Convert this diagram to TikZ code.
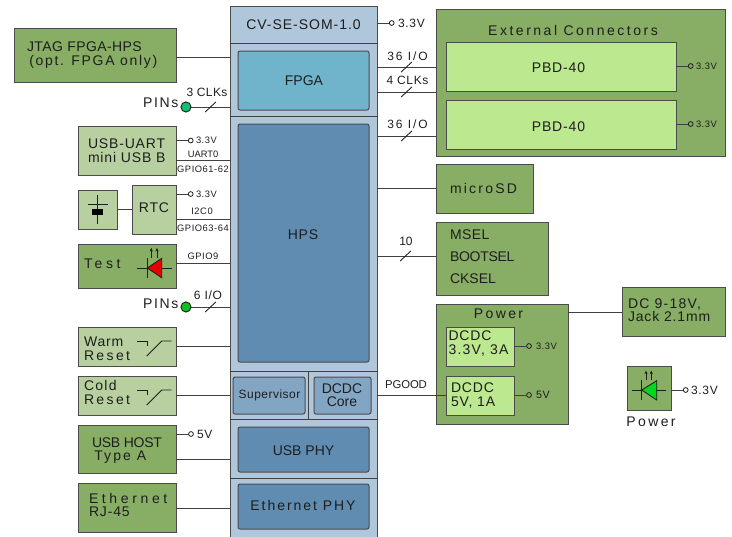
\documentclass[tikz,border=0pt]{standalone}
\usepackage{fontspec}
\setmainfont[LetterSpace=6]{Liberation Sans}
\newcommand\ls[2]{{\addfontfeature{LetterSpace=#1}#2}}
\newcommand\bx[7]{\pgfmathsetmacro\mw{(#4-#2)*0.75}\pgfmathsetmacro\mh{(#5-#3)*0.75}\node[#6,minimum width=\mw pt,minimum height=\mh pt] (#1) at ({(#2+#4)/2},{(#3+#5)/2}) {#7};}
\definecolor{dkg}{HTML}{88AD64}
\definecolor{ltg}{HTML}{B8D09F}
\definecolor{brg}{HTML}{BCE88F}
\definecolor{brd}{HTML}{AFC6DB}
\definecolor{hps}{HTML}{5F8CB0}
\definecolor{fpg}{HTML}{6FB4CA}
\definecolor{sup}{HTML}{82A5C4}
\definecolor{ink}{HTML}{1E1E1E}
\tikzset{
 every node/.style={inner sep=0pt,outer sep=0pt,text=ink},
 boxb/.style={draw=ink!80,line width=0.75pt,align=center},
 dk/.style={boxb,fill=dkg},
 lt/.style={boxb,fill=ltg},
 br/.style={boxb,fill=brg},
 chip/.style={boxb,fill=hps,rounded corners=1.5pt},
 big/.style={font=\fontsize{10.5}{10.2}\selectfont,align=left},
 mid/.style={font=\fontsize{9}{10}\selectfont,align=left},
 tiny/.style={font=\fontsize{7}{8}\selectfont},
 wire/.style={draw=ink!85,line width=0.7pt},
 term/.style={circle,draw=ink,line width=0.6pt,minimum size=3.6pt},
 pin/.style={circle,draw=ink,line width=0.7pt,minimum size=7.6pt},
 sym/.style={draw=ink,line width=0.65pt},
 tip/.style={-{Stealth[length=2.6pt,width=2.4pt]},draw=ink,line width=0.6pt},
}
\usetikzlibrary{arrows.meta}
\begin{document}
\begin{tikzpicture}[x=0.75pt,y=-0.75pt]
\useasboundingbox (0,0) rectangle (732,536);
% board
\bx{board}{230}{6}{377}{538}{boxb,fill=brd}{}
\coordinate (divA) at (230,43); \coordinate (divB) at (230,116);
\coordinate (divC) at (230,371); \coordinate (divD) at (230,419); \coordinate (divE) at (230,478);
\foreach \d in {divA,divB,divC,divD,divE} \draw[wire] (\d) -- (\d -| board.east);
\coordinate (divF) at (308,371); \draw[wire] (divF) -- (divF |- divD);
\node[big] (cv) at (303.5,25) {\ls{7}{CV-SE-SOM-1.0}};
\bx{fpga}{238}{51}{369}{110}{chip,fill=fpg}{}
\node[big] (fpgat) at (304,81) {\ls{0}{FPGA}};
\bx{hps}{238}{124}{369}{362}{chip}{}
\node[big] (hpst) at (303,235) {HPS};
\bx{sv}{233}{377}{305}{414}{chip,fill=sup}{}
\node[font=\fontsize{9}{9}\selectfont] (svt) at (269.5,395) {\ls{4}{Supervisor}};
\bx{core}{314}{377}{371}{414}{chip,fill=sup}{}
\node[big,align=center] (coret) at (342,395) {\ls{0}{DCDC}\\\ls{0}{Core}};
\bx{usbphy}{238}{427}{369}{472}{chip}{}
\node[big] (usbphyt) at (303.5,451) {\ls{0}{USB PHY}};
\bx{ethphy}{238}{484}{369}{529}{chip}{}
\node[big] (ethphyt) at (303,505) {\ls{14}{Ethernet PHY}};
% left boxes
\bx{jtag}{14.5}{28}{176}{82}{dk}{}
\node[big,anchor=west] (jtagt) at (27,55) {\ls{3}{JTAG FPGA-HPS}\\\,\ls{12}{(opt. FPGA only)}};
\bx{uart}{78}{126}{176}{175}{lt}{}
\node[big,anchor=west] (uartt) at (88,150.5) {USB-UART\\mini USB B};
\bx{bat}{78}{190}{117}{229}{lt}{}
\bx{rtc}{132}{185}{176}{234}{lt}{}
\node[big] (rtct) at (154,208) {RTC};
\bx{test}{78}{244}{176}{288}{dk}{}
\node[big,anchor=west] (testt) at (84,264) {\ls{26}{Test}};
\bx{warm}{78}{327}{176}{366}{lt}{}
\node[big,anchor=west] (warmt) at (84,348.5) {Warm\\\ls{17}{Reset}};
\bx{cold}{78}{376}{176}{415}{lt}{}
\node[big,anchor=west] (coldt) at (84,392.5) {\ls{9}{Cold}\\\ls{17}{Reset}};
\bx{host}{78}{425}{176}{473}{dk}{}
\node[big,anchor=west] (hostt) at (92,450.5) {\ls{-2}{USB HOST}\\\,\ls{15}{Type A}};
\bx{eth}{78}{483}{176}{532}{dk}{}
\node[big,anchor=west] (etht) at (89,505) {\ls{26}{Ethernet}\\RJ-45};
% right boxes
\bx{ext}{436}{9}{725}{156}{dk}{}
\node[big] (extt) at (573,30) {\ls{18}{External Connectors}};
\bx{pbda}{446}{42}{676}{91}{br}{}
\node[big] (pbdat) at (558.5,68) {PBD-40};
\bx{pbdb}{446}{100}{676}{149}{br}{}
\node[big] (pbdbt) at (558.5,127) {PBD-40};
\bx{sd}{436}{164}{533}{213}{dk}{}
\node[big,anchor=west] (sdt) at (450,188) {\ls{16}{microSD}};
\bx{msel}{436}{222}{548}{295}{dk}{}
\node[big,anchor=west] (mselt) at (450,235) {\ls{3}{MSEL}};
\node[big,anchor=west] (boott) at (450,257) {\ls{-2}{BOOTSEL}};
\node[big,anchor=west] (ckst) at (450,279) {\ls{0}{CKSEL}};
\bx{pwr}{436}{304}{568}{424}{dk}{}
\node[big] (pwrt) at (498.5,314) {\ls{17}{Power}};
\bx{dca}{446}{327}{514}{366}{br}{}
\node[big,anchor=west] (dcat) at (448.5,343.5) {DCDC\\\ls{9}{3.3V, 3A}};
\bx{dcb}{446}{376}{514}{415}{br}{}
\node[big,anchor=west] (dcbt) at (451,395.5) {DCDC\\5V, 1A};
\bx{dc}{622}{287}{725}{336}{dk}{}
\node[big,anchor=west] (dct) at (628,310) {\ls{9}{DC 9-18V,}\\Jack 2.1mm};
\bx{ledb}{627}{366}{671}{410}{dk}{}
\node[big] (ledt) at (651,422) {\ls{17}{Power}};
% plain connectors
\coordinate (yJ) at (0,57); \draw[wire] (jtag.east |- yJ) -- (board.west |- yJ);
\draw[wire] (bat.east |- 0,209) -- (rtc.west |- 0,209);
\coordinate (yA) at (0,160.5); \draw[wire] (uart.east |- yA) -- (board.west |- yA);
\coordinate (yB) at (0,219); \draw[wire] (rtc.east |- yB) -- (board.west |- yB);
\coordinate (yC) at (0,263); \draw[wire] (test.east |- yC) -- (board.west |- yC);
\coordinate (yD) at (0,346); \draw[wire] (warm.east |- yD) -- (board.west |- yD);
\coordinate (yE) at (0,395); \draw[wire] (cold.east |- yE) -- (board.west |- yE);
\coordinate (yF) at (0,459); \draw[wire] (host.east |- yF) -- (board.west |- yF);
\coordinate (yG) at (0,508); \draw[wire] (eth.east |- yG) -- (board.west |- yG);
\coordinate (yH) at (0,67); \draw[wire] (board.east |- yH) -- (ext.west |- yH);
\coordinate (yI) at (0,92); \draw[wire] (board.east |- yI) -- (ext.west |- yI);
\coordinate (yK) at (0,136); \draw[wire] (board.east |- yK) -- (ext.west |- yK);
\coordinate (yL) at (0,188); \draw[wire] (board.east |- yL) -- (sd.west |- yL);
\coordinate (yM) at (0,256); \draw[wire] (board.east |- yM) -- (msel.west |- yM);
\coordinate (yN) at (0,395); \draw[wire] (board.east |- yN) -- (dcb.west |- yN);
\coordinate (yO) at (0,312); \draw[wire] (pwr.east |- yO) -- (dc.west |- yO);
% pins
\node[pin,fill={rgb,255:red,16;green,192;blue,112}] (pina) at (186,107) {};
\draw[wire] (pina) -- (board.west |- pina);
\node[big,anchor=east] (pinat) at (178.5,103) {\ls{12}{PINs}};
\node[pin,fill={rgb,255:red,16;green,192;blue,32}] (pinb) at (186,307) {};
\draw[wire] (pinb) -- (board.west |- pinb);
\node[big,anchor=east] (pinbt) at (178.5,304) {\ls{12}{PINs}};
% slashes
\foreach \x/\y in {210.5/107,210.5/307,406.5/67,406.5/92,406.5/136,405.5/256}
  \draw[sym] (\x-5.3,\y+5) -- (\x+5.3,\y-5);
% bus labels
\node[mid] (l1) at (207,92) {\ls{3}{3 CLKs}};
\node[mid] (l2) at (208,295) {6 I/O};
\node[mid] (l3) at (407.5,56) {\ls{16}{36 I/O}};
\node[mid] (l4) at (407.5,80) {\ls{5}{4 CLKs}};
\node[mid] (l5) at (407.5,124) {\ls{16}{36 I/O}};
\node[mid] (l6) at (406,241) {\ls{-2}{10}};
\node[font=\fontsize{8.5}{9}\selectfont] (l7) at (406,385) {\ls{-1}{PGOOD}};
\node[tiny] (l8) at (203,154) {\ls{0}{UART0}};
\node[tiny] (l9) at (203,169) {GPIO61-62};
\node[tiny] (l10) at (202,211) {I2C0};
\node[tiny] (l11) at (203,228) {GPIO63-64};
\node[tiny] (l12) at (203,256) {GPIO9};
% terminals
\node[term] (ta) at (190.7,140.5) {}; \draw[wire] (uart.east |- ta) -- (ta.west);
\node[tiny,anchor=west] (tat) at (196,140.5) {3.3V};
\node[term] (tb) at (190.7,194) {}; \draw[wire] (rtc.east |- tb) -- (tb.west);
\node[tiny,anchor=west] (tbt) at (196,194) {3.3V};
\node[term] (tc) at (191,434) {}; \draw[wire] (host.east |- tc) -- (tc.west);
\node[mid,anchor=west] (tct) at (197,434) {5V};
\node[term] (td) at (391.7,23) {}; \draw[wire] (board.east |- td) -- (td.west);
\node[mid,anchor=west] (tdt) at (398,23) {3.3V};
\node[term] (te) at (690.7,66) {}; \draw[wire] (pbda.east |- te) -- (te.west);
\node[tiny,anchor=west] (tet) at (696,66) {3.3V};
\node[term] (tf) at (690.7,124) {}; \draw[wire] (pbdb.east |- tf) -- (tf.west);
\node[tiny,anchor=west] (tft) at (696,124) {3.3V};
\node[term] (tg) at (529,346) {}; \draw[wire] (dca.east |- tg) -- (tg.west);
\node[tiny,anchor=west] (tgt) at (536,346) {3.3V};
\node[term] (th) at (529,395) {}; \draw[wire] (dcb.east |- th) -- (th.west);
\node[font=\fontsize{8}{9}\selectfont,anchor=west] (tht) at (536,395) {5V};
\node[term] (ti) at (685.7,390) {}; \draw[wire] (ledb.east |- ti) -- (ti.west);
\node[mid,anchor=west] (tit) at (691,390) {3.3V};
% battery
\draw[sym] (97.7,195) -- (97.7,224);
\draw[sym] (87.7,204.3) -- (107.7,204.3);
\fill[black] (92,209) rectangle (103,215);
% red LED
\draw[sym] (136.7,268) -- (171.7,268);
\draw[sym,fill={rgb,255:red,230;green,0;blue,0}] (147.3,268) -- (161.7,258.3) -- (161.7,277.7) -- cycle;
\draw[sym] (147.3,258) -- (147.3,278);
\draw[tip] (151.3,258) -- (151.3,248);
\draw[tip] (157,258) -- (157,248);
% green LED
\draw[sym] (631.7,390) -- (665.7,390);
\draw[sym,fill={rgb,255:red,0;green,215;blue,30}] (641.7,390) -- (656.7,380.7) -- (656.7,400) -- cycle;
\draw[sym] (641.7,380) -- (641.7,400);
\draw[tip] (646,380) -- (646,370.7);
\draw[tip] (651.3,380) -- (651.3,370.7);
% switches
\foreach \o in {0,49}{
 \draw[sym] (137,341+\o) -- (147,341+\o) -- (147,345.5+\o);
 \draw[sym] (146.7,356+\o) -- (161.7,341+\o) -- (171.7,341+\o);
}
\end{tikzpicture}
\end{document}
